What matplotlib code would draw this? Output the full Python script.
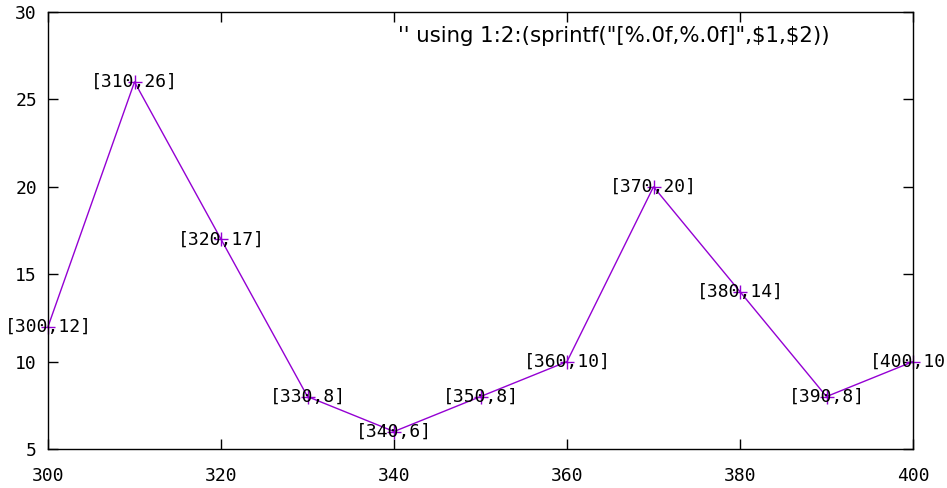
import matplotlib
matplotlib.use('Agg')
import matplotlib.pyplot as plt

# data
x_vals = [300, 310, 320, 330, 340, 350, 360, 370, 380, 390, 400]
y_vals = [12, 26, 17, 8, 6, 8, 10, 20, 14, 8, 10]
x_ticks = [300, 320, 340, 360, 380, 400]
y_ticks = [5, 10, 15, 20, 25, 30]

line_color = '#9400d3'
mono = 'DejaVu Sans Mono'

fig = plt.figure(figsize=(9.47, 4.88), dpi=100)
ax = fig.add_axes([0.0507, 0.0799, 0.9134, 0.8955])

ax.plot(x_vals, y_vals, color=line_color, lw=1.0, marker='+', ms=10,
        mew=1.0, clip_on=False)

for x, y in zip(x_vals, y_vals):
    ax.text(x, y, f'[{x:.0f},{y:.0f}]', ha='center', va='center',
            family=mono, fontsize=13, color='black', clip_on=False,
            zorder=5)

ax.set_xlim(300, 400)
ax.set_ylim(5, 30)
ax.set_xticks(x_ticks)
ax.set_yticks(y_ticks)
ax.tick_params(direction='in', length=7.2, width=1, top=True, right=True,
               labelsize=13)
ax.tick_params(axis='x', pad=13)
ax.tick_params(axis='y', pad=8)
for lab in ax.get_xticklabels() + ax.get_yticklabels():
    lab.set_family(mono)
for s in ax.spines.values():
    s.set_linewidth(1.0)

ax.text(0.904, 0.945, r"'' using 1:2:(sprintf(" + '"[%.0f,%.0f]",\\$1,\\$2))',
        transform=ax.transAxes, ha='right', va='center',
        family='DejaVu Sans', fontsize=15.3)

fig.savefig('out.png', dpi=100)
